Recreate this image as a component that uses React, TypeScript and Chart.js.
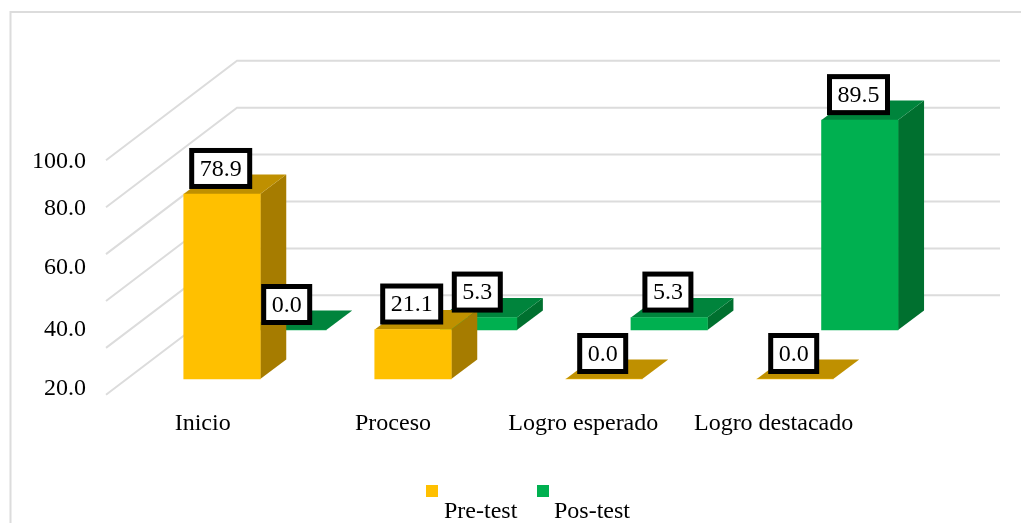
import React, { useEffect, useRef } from "react";
import { Chart, registerables } from "chart.js";

Chart.register(...registerables);

// ---- data ----
const categories = ["Inicio", "Proceso", "Logro esperado", "Logro destacado"];
const preTest = [78.9, 21.1, 0.0, 0.0];
const posTest = [0.0, 5.3, 5.3, 89.5];
const yTickLabels = ["20.0", "40.0", "60.0", "80.0", "100.0"];
const wallGridValues = [0, 20, 40, 60, 80, 100];

// ---- layout ----
const W = 1021;
const H = 523;
const AREA = { left: 106, right: 1001, top: 61, bottom: 395 };
const PX_PER_UNIT = 2.345;
const BAR_W = 76.5;
const DEPTH_X = 26;
const DEPTH_Y = -19.5;
const WALL_DX = -131;
const WALL_DY = 99.5;
const FONT = "'Liberation Serif', 'Times New Roman', serif";
const FONT_SIZE = 24;
const GRID = "#DCDCDC";
// where the value axis labels sit on the page
const yTickPixels = [389, 330, 268, 209, 161.5];

const COLORS = {
  pre: { front: "#FFC000", top: "#BF9000", side: "#A67C00" },
  pos: { front: "#00B050", top: "#00843C", side: "#00702F" },
};

const xRange = (origin: number, step: number) => ({
  min: (AREA.left - origin) / step,
  max: (AREA.right - origin) / step,
});
const yRange = (base: number) => ({
  min: (base - AREA.bottom) / PX_PER_UNIT,
  max: (base - AREA.top) / PX_PER_UNIT,
});

const BASE_PRE = 379;
const BASE_POS = 330;
const BASE_WALL = 295.3;

const poly = (ctx: CanvasRenderingContext2D, color: string, pts: number[][]) => {
  ctx.fillStyle = color;
  ctx.beginPath();
  pts.forEach(([x, y], i) => (i ? ctx.lineTo(x, y) : ctx.moveTo(x, y)));
  ctx.closePath();
  ctx.fill();
};

const threeD = {
  id: "threeD",
  beforeDraw(chart: any) {
    const { ctx } = chart;
    ctx.save();
    // chart frame (runs off the page on the right and at the bottom)
    ctx.strokeStyle = GRID;
    ctx.lineWidth = 2;
    ctx.beginPath();
    ctx.moveTo(10.5, H + 5);
    ctx.lineTo(10.5, 12);
    ctx.lineTo(W + 5, 12);
    ctx.stroke();
    // walls
    const wall = chart.scales.yWall;
    ctx.lineWidth = 2;
    wallGridValues.forEach((v) => {
      const p = wall.getPixelForValue(v);
      const corner = AREA.left - WALL_DX;
      ctx.beginPath();
      ctx.moveTo(AREA.left, p + WALL_DY);
      ctx.lineTo(corner, p);
      ctx.lineTo(AREA.right - 1, p);
      ctx.stroke();
    });
    ctx.restore();
  },
  beforeDatasetDraw(chart: any, args: any) {
    const { ctx } = chart;
    const c = chart.data.datasets[args.index].faces;
    ctx.save();
    args.meta.data.forEach((el: any) => {
      const l = el.x - el.width / 2;
      const r = el.x + el.width / 2;
      const t = el.y;
      const b = el.base;
      poly(ctx, c.side, [
        [r, t],
        [r + DEPTH_X, t + DEPTH_Y],
        [r + DEPTH_X, b + DEPTH_Y],
        [r, b],
      ]);
      poly(ctx, c.top, [
        [l, t],
        [l + DEPTH_X, t + DEPTH_Y],
        [r + DEPTH_X, t + DEPTH_Y],
        [r, t],
      ]);
    });
    ctx.restore();
  },
  afterDatasetsDraw(chart: any) {
    const { ctx } = chart;
    ctx.save();
    ctx.font = `${FONT_SIZE}px ${FONT}`;
    ctx.textAlign = "center";
    ctx.textBaseline = "middle";
    [1, 0].forEach((di) => {
      const ds = chart.data.datasets[di];
      chart.getDatasetMeta(di).data.forEach((el: any, i: number) => {
        const text = ds.data[i].y.toFixed(1);
        const cx = el.x - 1.3;
        const cy = el.y - 25.5;
        const w = ctx.measureText(text).width + 16;
        const h = 36;
        ctx.fillStyle = "#FFFFFF";
        ctx.fillRect(cx - w / 2, cy - h / 2, w, h);
        ctx.strokeStyle = "#000000";
        ctx.lineWidth = 5;
        ctx.strokeRect(cx - w / 2, cy - h / 2, w, h);
        ctx.fillStyle = "#000000";
        ctx.fillText(text, cx, cy + 1);
      });
    });
    ctx.restore();
  },
  afterDraw(chart: any) {
    const { ctx } = chart;
    const boxes = [426, 537];
    const texts = [444, 554];
    ctx.save();
    ctx.font = `${FONT_SIZE}px ${FONT}`;
    ctx.textAlign = "left";
    ctx.textBaseline = "middle";
    chart.data.datasets.forEach((ds: any, i: number) => {
      ctx.fillStyle = ds.backgroundColor;
      ctx.fillRect(boxes[i], 485, 12, 12);
      ctx.fillStyle = "#000000";
      ctx.fillText(ds.label, texts[i], 512);
    });
    ctx.restore();
  },
};

export default function App() {
  const ref = useRef<HTMLCanvasElement>(null);

  useEffect(() => {
    const tickValues = yTickPixels.map((p) => (BASE_PRE - p) / PX_PER_UNIT);
    const chart = new Chart(ref.current!, {
      type: "bar",
      data: {
        datasets: [
          {
            label: "Pre-test",
            data: preTest.map((y, x) => ({ x, y })),
            backgroundColor: COLORS.pre.front,
            faces: COLORS.pre,
            xAxisID: "xPre",
            yAxisID: "y",
            grouped: false,
            barThickness: BAR_W,
            borderWidth: 0,
          },
          {
            label: "Pos-test",
            data: posTest.map((y, x) => ({ x, y })),
            backgroundColor: COLORS.pos.front,
            faces: COLORS.pos,
            xAxisID: "xPos",
            yAxisID: "yPos",
            grouped: false,
            barThickness: BAR_W,
            borderWidth: 0,
          },
        ] as any,
      },
      plugins: [threeD],
      options: {
        responsive: false,
        animation: false,
        events: [],
        layout: { padding: { left: 0, top: AREA.top, right: W - AREA.right, bottom: 0 } },
        plugins: { legend: { display: false }, tooltip: { enabled: false } },
        scales: {
          x: {
            type: "linear",
            position: "bottom",
            offset: false,
            ...xRange(202.7, 190.3),
            grid: { display: false, offset: false },
            border: { display: false },
            afterBuildTicks: (s: any) => {
              s.ticks = categories.map((_, value) => ({ value }));
            },
            afterFit: (s: any) => {
              s.height = H - AREA.bottom;
            },
            ticks: {
              autoSkip: false,
              maxRotation: 0,
              padding: 6,
              color: "#000000",
              font: { family: FONT, size: FONT_SIZE },
              callback: (v: any) => categories[v],
            },
          },
          xPre: { type: "linear", display: false, offset: false, ...xRange(222, 191) },
          xPos: { type: "linear", display: false, offset: false, ...xRange(288, 190.6) },
          y: {
            type: "linear",
            position: "left",
            ...yRange(BASE_PRE),
            grid: { display: false, drawTicks: false },
            border: { display: false },
            afterBuildTicks: (s: any) => {
              s.ticks = tickValues.map((value) => ({ value }));
            },
            afterFit: (s: any) => {
              s.width = AREA.left;
            },
            ticks: {
              autoSkip: false,
              padding: 20,
              color: "#000000",
              font: { family: FONT, size: FONT_SIZE },
              callback: (_v: any, i: number) => yTickLabels[i],
            },
          },
          yPos: { type: "linear", display: false, ...yRange(BASE_POS) },
          yWall: { type: "linear", display: false, ...yRange(BASE_WALL) },
        },
      } as any,
    });
    return () => chart.destroy();
  }, []);

  return (
    <canvas
      ref={ref}
      width={W}
      height={H}
      style={{ position: "fixed", left: 0, top: 0, width: W, height: H, display: "block" }}
    />
  );
}
